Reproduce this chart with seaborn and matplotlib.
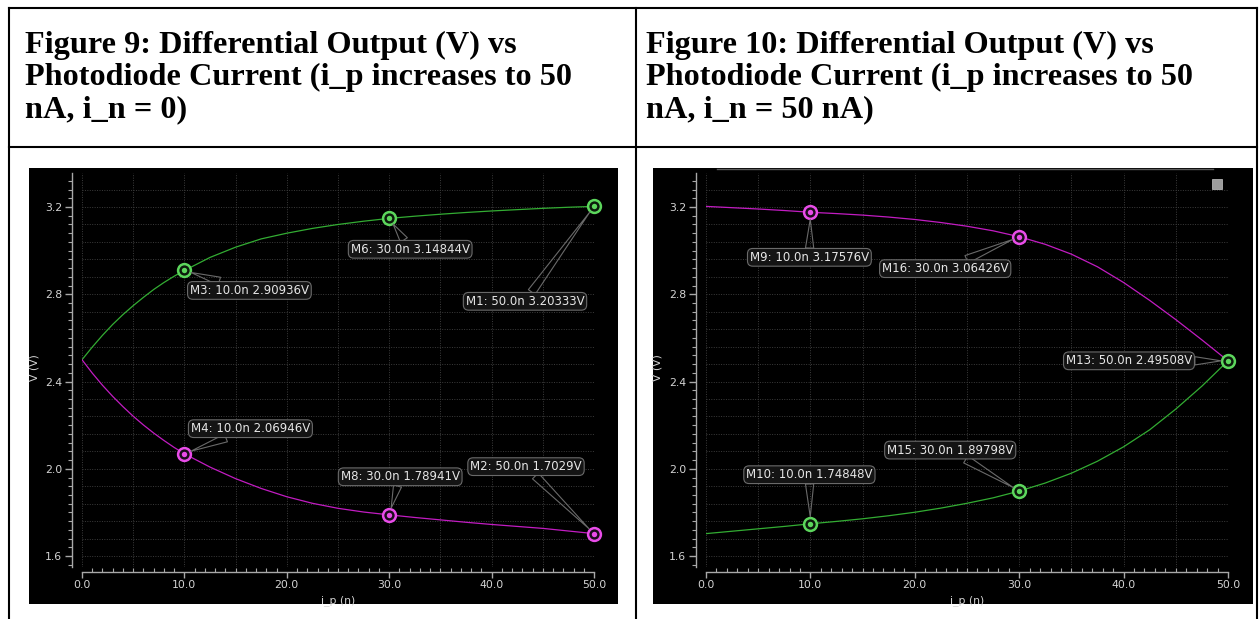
import matplotlib
matplotlib.use("Agg")
import matplotlib.pyplot as plt
from matplotlib.patches import Rectangle
from matplotlib.lines import Line2D
from matplotlib.ticker import MultipleLocator
import numpy as np
import pandas as pd
import seaborn as sns

# ---------------- data ----------------
i_p_fig9 = [0, 1, 2, 3, 4, 5, 6, 7, 8, 9, 10, 12.5, 15, 17.5, 20, 22.5, 25, 27.5, 30,
            32.5, 35, 37.5, 40, 42.5, 45, 47.5, 50]
fig9_green = [2.500, 2.558, 2.612, 2.662, 2.707, 2.748, 2.786, 2.822, 2.854, 2.883, 2.909,
              2.969, 3.016, 3.054, 3.080, 3.102, 3.120, 3.135, 3.148,
              3.158, 3.167, 3.175, 3.182, 3.188, 3.194, 3.199, 3.203]
fig9_magenta = [2.500, 2.439, 2.383, 2.332, 2.285, 2.241, 2.201, 2.164, 2.130, 2.098, 2.069,
                2.008, 1.955, 1.910, 1.872, 1.842, 1.819, 1.802, 1.789,
                1.777, 1.766, 1.755, 1.745, 1.736, 1.727, 1.715, 1.703]

i_p_fig10 = [0, 2.5, 5, 7.5, 10, 12.5, 15, 17.5, 20, 22.5, 25, 27.5, 30,
             32.5, 35, 37.5, 40, 42.5, 45, 47.5, 50]
fig10_magenta = [3.203, 3.197, 3.191, 3.184, 3.176, 3.170, 3.163, 3.154, 3.143, 3.129,
                 3.112, 3.091, 3.064, 3.029, 2.984, 2.926, 2.854, 2.772, 2.684, 2.591, 2.495]
fig10_green = [1.703, 1.714, 1.725, 1.736, 1.748, 1.759, 1.771, 1.785, 1.801, 1.820,
               1.842, 1.867, 1.898, 1.935, 1.980, 2.035, 2.101, 2.179, 2.274, 2.379, 2.495]

# markers: names, x, value
fig9_green_markers = (["M3", "M6", "M1"], [10.0, 30.0, 50.0], [2.90936, 3.14844, 3.20333])
fig9_magenta_markers = (["M4", "M8", "M2"], [10.0, 30.0, 50.0], [2.06946, 1.78941, 1.7029])
fig10_magenta_markers = (["M9", "M16"], [10.0, 30.0], [3.17576, 3.06426])
fig10_green_markers = (["M13", "M10", "M15"], [50.0, 10.0, 30.0], [2.49508, 1.74848, 1.89798])

x_ticks = [0, 10, 20, 30, 40, 50]
x_ticklabels = ["0.0", "10.0", "20.0", "30.0", "40.0", "50.0"]
y_ticks = [1.6, 2.0, 2.4, 2.8, 3.2]
y_ticklabels = ["1.6", "2.0", "2.4", "2.8", "3.2"]

title9 = ["Figure 9: Differential Output (V) vs",
          "Photodiode Current (i_p increases to 50",
          "nA, i_n = 0)"]
title10 = ["Figure 10: Differential Output (V) vs",
           "Photodiode Current (i_p increases to 50",
           "nA, i_n = 50 nA)"]

# label offsets in pixels (layout only)
offsets9 = {"M3": (65, -20), "M6": (21, -31), "M1": (-69, -95),
            "M4": (66, 25), "M8": (11, 38), "M2": (-68, 67)}
offsets10 = {"M9": (-1, -45), "M16": (-74, -32), "M13": (-99, 0),
             "M10": (-1, 49), "M15": (-69, 41)}

# ---------------- style ----------------
W, H = 1259, 619
GREEN_LINE = "#33ad33"
GREEN_MARK = "#5cd65c"
MAG_LINE = "#c21cc2"
MAG_MARK = "#e84ce8"
AX_COL = "#a8a8a8"
TXT_COL = "#d4d4d4"
LAB_FS = 8.5
TICK_FS = 7.8

fig = plt.figure(figsize=(W / 100, H / 100), dpi=100)
fig.patch.set_facecolor("white")


def fx(px):
    return px / W


def fy(py):
    return 1 - py / H


# table lines
lw_tab = 1.5
for (x0, y0, x1, y1) in [(9, 8, 1257, 8), (9, 147, 1257, 147),
                         (9, 8, 9, 619), (636, 8, 636, 619), (1257, 8, 1257, 619)]:
    fig.add_artist(Line2D([fx(x0), fx(x1)], [fy(y0), fy(y1)], color="black", lw=lw_tab))

# headers (one text per line, baselines placed explicitly)
for x, lines in [(25, title9), (646, title10)]:
    for base, t in zip([53.5, 85.5, 117.0], lines):
        fig.text(fx(x), fy(base), t, ha="left", va="baseline", fontsize=23.2,
                 fontweight="bold", family="Liberation Serif", color="black")

# black panels
for (x0, y0, x1, y1) in [(29, 168, 618, 604), (653, 168, 1253, 604)]:
    fig.add_artist(Rectangle((fx(x0), fy(y1)), fx(x1 - x0), (y1 - y0) / H,
                             facecolor="black", edgecolor="none", zorder=0))
fig.add_artist(Line2D([fx(717), fx(1213)], [fy(168.5), fy(168.5)], color="#5a5a5a", lw=1))
fig.add_artist(Rectangle((fx(1212), fy(189)), fx(10), 10 / H, facecolor="#9c9c9c",
                         edgecolor="#c8c8c8", lw=0.5, zorder=3))


def make_axes(left_px, right_px):
    ax = fig.add_axes([fx(left_px), fy(567), fx(right_px - left_px), (567 - 173) / H])
    ax.set_facecolor("none")
    return ax


def style_axes(ax):
    ax.set_xlim(0, 50)
    ax.set_ylim(1.55, 3.356)
    for s in ["top", "right"]:
        ax.spines[s].set_visible(False)
    ax.spines["left"].set_position(("outward", 7.2))
    ax.spines["bottom"].set_position(("outward", 3.6))
    for s in ["left", "bottom"]:
        ax.spines[s].set_color(AX_COL)
        ax.spines[s].set_linewidth(1.0)
    ax.set_xticks(x_ticks)
    ax.set_xticklabels(x_ticklabels)
    ax.set_yticks(y_ticks)
    ax.set_yticklabels(y_ticklabels)
    ax.xaxis.set_minor_locator(MultipleLocator(1))
    ax.yaxis.set_minor_locator(MultipleLocator(0.04))
    ax.tick_params(axis="both", which="both", colors=AX_COL, labelcolor=TXT_COL,
                   labelsize=TICK_FS)
    ax.tick_params(axis="x", which="major", direction="out", length=4, width=1, pad=2)
    ax.tick_params(axis="x", which="minor", direction="in", length=3, width=0.8)
    ax.tick_params(axis="y", which="major", direction="out", length=5, width=1, pad=2)
    ax.tick_params(axis="y", which="minor", direction="out", length=3, width=0.8)
    for gx in np.arange(0, 50.1, 5):
        ax.axvline(gx, color="#3c3c3c", lw=0.7, ls=(0, (1, 1.5)), zorder=0)
    for gy in np.arange(1.6, 3.3, 0.08):
        ax.axhline(gy, color="#3c3c3c", lw=0.7, ls=(0, (1, 1.5)), zorder=0)
    ax.set_xlabel("i_p (n)", color=TXT_COL, fontsize=TICK_FS)
    ax.set_ylabel("V (V)", color=TXT_COL, fontsize=TICK_FS, va="center")
    ax.xaxis.set_label_coords(0.5, -0.072)
    ax.yaxis.set_label_coords(-0.092, 0.505)


def draw_markers(ax, markers, mark_col, offsets):
    names, xs, vs = markers
    ax.scatter(xs, vs, s=85, facecolors="#0c1a0c" if mark_col == GREEN_MARK else "#1a0c1a",
               edgecolors=mark_col, linewidths=1.8, zorder=6, clip_on=False)
    ax.scatter(xs, vs, s=15, color=mark_col, zorder=7, clip_on=False, linewidths=0)
    for n, x, v in zip(names, xs, vs):
        dx, dy = offsets[n]
        ax.annotate(f"{n}: {x:.1f}n {v}V", xy=(x, v), xytext=(dx, dy),
                    textcoords="offset pixels", ha="center", va="center",
                    fontsize=LAB_FS, color="#e6e6e6", zorder=8, annotation_clip=False,
                    bbox=dict(boxstyle="round,pad=0.2,rounding_size=0.45",
                              fc="#141414", ec="#6a6a6a", lw=0.8),
                    arrowprops=dict(arrowstyle="wedge,tail_width=0.7,shrink_factor=0.5",
                                    fc="none", ec="#6a6a6a", lw=0.8,
                                    shrinkA=0, shrinkB=5))


# ---------- Figure 9 ----------
ax1 = make_axes(82, 594)
df9 = pd.DataFrame({"i_p": i_p_fig9, "green": fig9_green, "magenta": fig9_magenta})
sns.lineplot(data=df9, x="i_p", y="green", ax=ax1, color=GREEN_LINE, lw=0.9, zorder=3)
sns.lineplot(data=df9, x="i_p", y="magenta", ax=ax1, color=MAG_LINE, lw=0.9, zorder=3)
style_axes(ax1)
draw_markers(ax1, fig9_green_markers, GREEN_MARK, offsets9)
draw_markers(ax1, fig9_magenta_markers, MAG_MARK, offsets9)

# ---------- Figure 10 ----------
ax2 = make_axes(706, 1228)
df10 = pd.DataFrame({"i_p": i_p_fig10, "green": fig10_green, "magenta": fig10_magenta})
sns.lineplot(data=df10, x="i_p", y="magenta", ax=ax2, color=MAG_LINE, lw=0.9, zorder=3)
sns.lineplot(data=df10, x="i_p", y="green", ax=ax2, color=GREEN_LINE, lw=0.9, zorder=3)
style_axes(ax2)
draw_markers(ax2, fig10_magenta_markers, MAG_MARK, offsets10)
draw_markers(ax2, fig10_green_markers, GREEN_MARK, offsets10)

fig.savefig("out.png", dpi=100, facecolor="white")
